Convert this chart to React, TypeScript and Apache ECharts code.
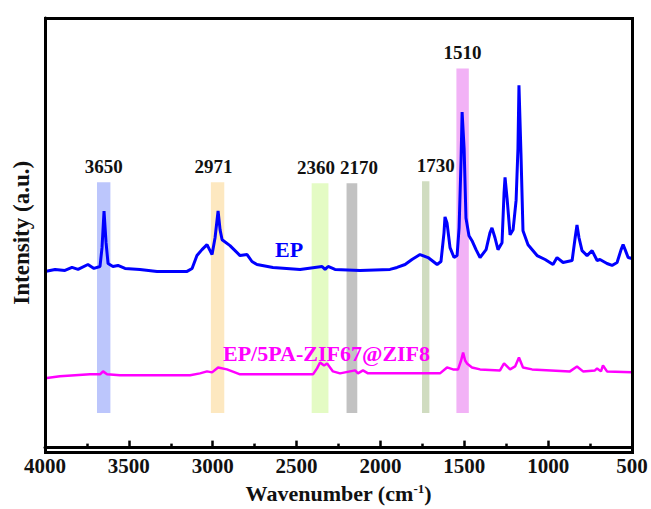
import React, { useEffect, useRef } from "react";
import * as echarts from "echarts";

// FTIR spectra: wavenumber (cm-1) vs. intensity (arbitrary units)
const epWavenumber = [
  4000, 3940, 3881, 3839, 3803, 3744, 3708, 3672, 3660, 3648, 3636, 3624, 3595, 3565, 3523, 3434,
  3332, 3153, 3123, 3094, 3064, 3034, 3004, 2986, 2968, 2956, 2944, 2897, 2837, 2795, 2766, 2736,
  2641, 2479, 2348, 2330, 2312, 2271, 2122, 1943, 1901, 1853, 1812, 1764, 1716, 1662, 1639, 1621,
  1615, 1603, 1585, 1561, 1543, 1531, 1519, 1513, 1501, 1490, 1472, 1454, 1430, 1406, 1370, 1347,
  1335, 1317, 1299, 1275, 1263, 1257, 1245, 1227, 1209, 1191, 1180, 1174, 1162, 1150, 1120, 1066,
  1018, 971, 947, 911, 857, 839, 828, 816, 798, 768, 738, 708, 691, 649, 619, 589, 565, 553, 541,
  523, 500,
];
const epIntensity = [
  178, 180, 179, 182, 180, 185, 181, 183, 202, 239, 207, 186, 183, 184, 181, 180,
  178, 178, 181, 194, 200, 205, 195, 212, 239, 220, 210, 204, 194, 195, 188, 185,
  182, 180, 183, 180, 183, 180, 179, 180, 182, 185, 190, 195, 192, 185, 188, 217,
  233, 227, 202, 192, 194, 222, 292, 339, 302, 232, 214, 209, 200, 192, 200, 217,
  222, 212, 200, 207, 257, 273, 252, 215, 220, 250, 302, 366, 297, 219, 205, 194,
  190, 185, 192, 187, 189, 212, 225, 212, 199, 194, 199, 189, 190, 186, 184, 187, 200, 205, 200,
  192, 191,
];

const zifWavenumber = [
  4000, 3911, 3821, 3732, 3672, 3654, 3630, 3553, 3135, 3076, 3034, 3004, 2968, 2915, 2837, 2658,
  2402, 2378, 2360, 2336, 2318, 2283, 2241, 2151, 2134, 2104, 2074, 1883, 1645, 1603, 1567, 1537,
  1519, 1507, 1495, 1484, 1454, 1406, 1287, 1263, 1227, 1197, 1174, 1150, 1096, 870, 828, 792,
  721, 708, 685, 673, 649, 500,
];
const zifIntensity = [
  70, 72, 73, 74, 74, 77, 74, 73, 73, 75, 77, 76, 81, 79, 74, 74,
  74, 80, 86, 83, 85, 77, 75, 78, 75, 78, 75, 75, 75, 81, 79, 79,
  88, 96, 88, 85, 81, 79, 78, 85, 79, 82, 91, 81, 79, 77, 82, 77,
  78, 80, 77, 83, 77, 76,
];

// Highlighted absorption bands
const bandCenters = [3650, 2971, 2360, 2170, 1730, 1510];
const bandHalfWidths = [40, 40, 50, 32, 22, 37];
const bandBottoms = [35, 35, 35, 35, 35, 35];
const bandTops = [268, 268, 267, 267, 269, 383];
const bandColors = ["#bcc6fc", "#fde8c0", "#e4fbc4", "#c2c2c2", "#d0dcc0", "#f2b2f6"];
const bandLabelShift = [0, -4, -4, 7, 10, 0];

const xTicks = { min: 500, max: 4000, step: 500 };
const yRange = { min: 0, max: 434 };

const serif = "'Liberation Serif', 'Times New Roman', serif";

// plot area in page pixels
const PLOT = { left: 45, top: 18, width: 587, height: 434 };

const pairs = (xs: number[], ys: number[]) => xs.map((x, i) => [x, ys[i]]);

export default function App() {
  const ref = useRef<HTMLDivElement>(null);

  useEffect(() => {
    if (!ref.current) return;
    const chart = echarts.init(ref.current, undefined, { renderer: "svg" });

    const bandAreas = bandCenters.map((c, i) => [
      {
        xAxis: c + bandHalfWidths[i],
        yAxis: bandBottoms[i],
        itemStyle: { color: bandColors[i] },
        label: {
          show: true,
          position: "top",
          distance: 6,
          offset: [bandLabelShift[i], 0],
          formatter: String(c),
          fontFamily: serif,
          fontWeight: "bold",
          fontSize: 19,
          color: "#111",
        },
      },
      { xAxis: c - bandHalfWidths[i], yAxis: bandTops[i] },
    ]);

    chart.setOption({
      animation: false,
      grid: {
        left: PLOT.left,
        top: PLOT.top,
        width: PLOT.width,
        height: PLOT.height,
      },
      xAxis: {
        type: "value",
        position: "bottom",
        inverse: true,
        min: xTicks.min,
        max: xTicks.max,
        interval: xTicks.step,
        name: "Wavenumber (cm{sup|-1})",
        nameLocation: "middle",
        nameGap: 30,
        nameTextStyle: {
          fontFamily: serif,
          fontWeight: "bold",
          fontSize: 22,
          color: "#111",
          rich: {
            sup: {
              fontFamily: serif,
              fontWeight: "bold",
              fontSize: 13,
              verticalAlign: "top",
              padding: [0, 0, 10, 0],
              color: "#111",
            },
          },
        },
        axisLine: { show: true, onZero: false, lineStyle: { color: "#000", width: 3 } },
        axisTick: { show: true, inside: true, length: 7, lineStyle: { color: "#000", width: 2.5 } },
        minorTick: { show: true, splitNumber: 2, length: 4, lineStyle: { color: "#000", width: 2.5 } },
        axisLabel: {
          margin: 8,
          fontFamily: serif,
          fontWeight: "bold",
          fontSize: 21,
          color: "#111",
          formatter: (v: number) => String(v),
        },
        splitLine: { show: false },
      },
      yAxis: {
        type: "value",
        position: "left",
        min: yRange.min,
        max: yRange.max,
        name: "Intensity (a.u.)",
        nameLocation: "middle",
        nameGap: 12,
        nameTextStyle: {
          fontFamily: serif,
          fontWeight: "bold",
          fontSize: 23,
          color: "#111",
        },
        axisLine: { show: true, onZero: false, lineStyle: { color: "#000", width: 3 } },
        axisTick: { show: false },
        axisLabel: { show: false },
        splitLine: { show: false },
      },
      series: [
        {
          type: "line",
          name: "bands",
          data: [],
          silent: true,
          z: 1,
          markArea: { silent: true, data: bandAreas },
        },
        {
          type: "line",
          name: "EP",
          data: pairs(epWavenumber, epIntensity),
          showSymbol: false,
          z: 3,
          lineStyle: { color: "#0000ff", width: 3 },
        },
        {
          type: "line",
          name: "EP/5PA-ZIF67@ZIF8",
          data: pairs(zifWavenumber, zifIntensity),
          showSymbol: false,
          z: 3,
          lineStyle: { color: "#ff00ff", width: 2.5 },
        },
      ],
      graphic: [
        {
          type: "text",
          left: 275,
          top: 238,
          style: {
            text: "EP",
            fontFamily: serif,
            fontWeight: "bold",
            fontSize: 22,
            fill: "#0000ff",
          },
          z: 10,
        },
        {
          type: "text",
          left: 223,
          top: 342,
          style: {
            text: "EP/5PA-ZIF67@ZIF8",
            fontFamily: serif,
            fontWeight: "bold",
            fontSize: 22,
            fill: "#ff00ff",
          },
          z: 10,
        },
      ],
    });

    return () => chart.dispose();
  }, []);

  return (
    <div style={{ position: "absolute", left: 0, top: 0, width: 651, height: 509, background: "#fff" }}>
      <div ref={ref} style={{ position: "absolute", left: 0, top: 0, width: 651, height: 509 }} />
      {/* black box around the plot area */}
      <div
        style={{
          position: "absolute",
          left: PLOT.left - 1.5,
          top: PLOT.top - 1.5,
          width: PLOT.width + 3,
          height: PLOT.height + 3,
          border: "3px solid #000",
          boxSizing: "border-box",
          pointerEvents: "none",
        }}
      />
    </div>
  );
}
